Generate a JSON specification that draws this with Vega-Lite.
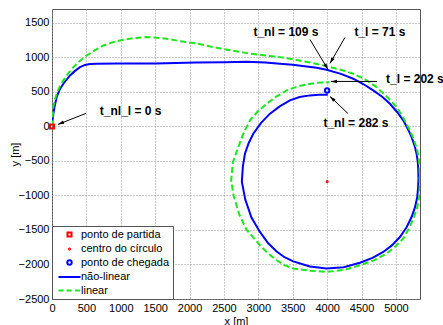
{
  "$schema": "https://vega.github.io/schema/vega-lite/v6.json",
  "width": 368,
  "height": 290,
  "autosize": "none",
  "padding": {"left": 52, "top": 9, "right": 23, "bottom": 26},
  "background": "white",
  "config": {
    "view": {"stroke": "#555", "strokeWidth": 1},
    "font": "Liberation Sans",
    "axis": {
      "labelFont": "Liberation Sans", "labelFontSize": 11, "labelColor": "#000",
      "titleFont": "Liberation Sans", "titleFontSize": 11, "titleFontWeight": "normal", "titleColor": "#000",
      "grid": true, "gridColor": "#999", "gridDash": [1, 2], "gridOpacity": 1,
      "domain": false, "ticks": false, "labelPadding": 3, "format": "d"
    }
  },
  "datasets": {
    "traj": [
      {"s":"não-linear","i":0,"x":0,"y":0},{"s":"não-linear","i":1,"x":8,"y":90},{"s":"não-linear","i":2,"x":20,"y":184},{"s":"não-linear","i":3,"x":40,"y":300},{"s":"não-linear","i":4,"x":68,"y":424},{"s":"não-linear","i":5,"x":110,"y":530},{"s":"não-linear","i":6,"x":165,"y":618},{"s":"não-linear","i":7,"x":262,"y":738},{"s":"não-linear","i":8,"x":330,"y":800},{"s":"não-linear","i":9,"x":407,"y":858},{"s":"não-linear","i":10,"x":480,"y":890},{"s":"não-linear","i":11,"x":552,"y":903},{"s":"não-linear","i":12,"x":650,"y":907},{"s":"não-linear","i":13,"x":940,"y":910},{"s":"não-linear","i":14,"x":1500,"y":912},{"s":"não-linear","i":15,"x":2103,"y":925},{"s":"não-linear","i":16,"x":2500,"y":930},{"s":"não-linear","i":17,"x":2830,"y":936},{"s":"não-linear","i":18,"x":3100,"y":925},{"s":"não-linear","i":19,"x":3314,"y":907},{"s":"não-linear","i":20,"x":3500,"y":892},{"s":"não-linear","i":21,"x":3702,"y":868},{"s":"não-linear","i":22,"x":3850,"y":848},{"s":"não-linear","i":23,"x":3992,"y":820},{"s":"não-linear","i":24,"x":4200,"y":760},{"s":"não-linear","i":25,"x":4380,"y":690},{"s":"não-linear","i":26,"x":4530,"y":610},{"s":"não-linear","i":27,"x":4670,"y":521},{"s":"não-linear","i":28,"x":4800,"y":430},{"s":"não-linear","i":29,"x":4913,"y":328},{"s":"não-linear","i":30,"x":5020,"y":205},{"s":"não-linear","i":31,"x":5106,"y":87},{"s":"não-linear","i":32,"x":5170,"y":-30},{"s":"não-linear","i":33,"x":5228,"y":-155},{"s":"não-linear","i":34,"x":5270,"y":-275},{"s":"não-linear","i":35,"x":5300,"y":-395},{"s":"não-linear","i":36,"x":5318,"y":-515},{"s":"não-linear","i":37,"x":5325,"y":-637},{"s":"não-linear","i":38,"x":5328,"y":-760},{"s":"não-linear","i":39,"x":5322,"y":-890},{"s":"não-linear","i":40,"x":5310,"y":-1023},{"s":"não-linear","i":41,"x":5278,"y":-1170},{"s":"não-linear","i":42,"x":5228,"y":-1313},{"s":"não-linear","i":43,"x":5155,"y":-1460},{"s":"não-linear","i":44,"x":5058,"y":-1602},{"s":"não-linear","i":45,"x":4945,"y":-1720},{"s":"não-linear","i":46,"x":4816,"y":-1819},{"s":"não-linear","i":47,"x":4660,"y":-1905},{"s":"não-linear","i":48,"x":4477,"y":-1975},{"s":"não-linear","i":49,"x":4240,"y":-2040},{"s":"não-linear","i":50,"x":3992,"y":-2059},{"s":"não-linear","i":51,"x":3750,"y":-2030},{"s":"não-linear","i":52,"x":3508,"y":-1955},{"s":"não-linear","i":53,"x":3380,"y":-1895},{"s":"não-linear","i":54,"x":3266,"y":-1812},{"s":"não-linear","i":55,"x":3140,"y":-1690},{"s":"não-linear","i":56,"x":3023,"y":-1529},{"s":"não-linear","i":57,"x":2900,"y":-1320},{"s":"não-linear","i":58,"x":2810,"y":-1060},{"s":"não-linear","i":59,"x":2760,"y":-800},{"s":"não-linear","i":60,"x":2775,"y":-580},{"s":"não-linear","i":61,"x":2805,"y":-395},{"s":"não-linear","i":62,"x":2860,"y":-240},{"s":"não-linear","i":63,"x":2926,"y":-106},{"s":"não-linear","i":64,"x":3040,"y":50},{"s":"não-linear","i":65,"x":3169,"y":184},{"s":"não-linear","i":66,"x":3310,"y":290},{"s":"não-linear","i":67,"x":3459,"y":376},{"s":"não-linear","i":68,"x":3600,"y":425},{"s":"não-linear","i":69,"x":3750,"y":449},{"s":"não-linear","i":70,"x":3880,"y":458},{"s":"não-linear","i":71,"x":4010,"y":458},
      {"s":"linear","i":0,"x":0,"y":0},{"s":"linear","i":1,"x":8,"y":120},{"s":"linear","i":2,"x":19,"y":280},{"s":"linear","i":3,"x":40,"y":380},{"s":"linear","i":4,"x":68,"y":473},{"s":"linear","i":5,"x":110,"y":570},{"s":"linear","i":6,"x":165,"y":666},{"s":"linear","i":7,"x":230,"y":760},{"s":"linear","i":8,"x":310,"y":858},{"s":"linear","i":9,"x":400,"y":945},{"s":"linear","i":10,"x":504,"y":1027},{"s":"linear","i":11,"x":620,"y":1100},{"s":"linear","i":12,"x":746,"y":1172},{"s":"linear","i":13,"x":890,"y":1220},{"s":"linear","i":14,"x":1037,"y":1254},{"s":"linear","i":15,"x":1200,"y":1280},{"s":"linear","i":16,"x":1376,"y":1293},{"s":"linear","i":17,"x":1520,"y":1285},{"s":"linear","i":18,"x":1667,"y":1269},{"s":"linear","i":19,"x":1860,"y":1235},{"s":"linear","i":20,"x":2103,"y":1200},{"s":"linear","i":21,"x":2345,"y":1148},{"s":"linear","i":22,"x":2600,"y":1100},{"s":"linear","i":23,"x":2830,"y":1061},{"s":"linear","i":24,"x":3070,"y":1030},{"s":"linear","i":25,"x":3314,"y":1003},{"s":"linear","i":26,"x":3560,"y":960},{"s":"linear","i":27,"x":3798,"y":916},{"s":"linear","i":28,"x":3992,"y":872},{"s":"linear","i":29,"x":4200,"y":820},{"s":"linear","i":30,"x":4380,"y":762},{"s":"linear","i":31,"x":4550,"y":680},{"s":"linear","i":32,"x":4719,"y":569},{"s":"linear","i":33,"x":4870,"y":430},{"s":"linear","i":34,"x":5010,"y":279},{"s":"linear","i":35,"x":5110,"y":120},{"s":"linear","i":36,"x":5203,"y":-58},{"s":"linear","i":37,"x":5265,"y":-200},{"s":"linear","i":38,"x":5310,"y":-347},{"s":"linear","i":39,"x":5335,"y":-490},{"s":"linear","i":40,"x":5345,"y":-637},{"s":"linear","i":41,"x":5346,"y":-830},{"s":"linear","i":42,"x":5339,"y":-1023},{"s":"linear","i":43,"x":5310,"y":-1170},{"s":"linear","i":44,"x":5262,"y":-1313},{"s":"linear","i":45,"x":5195,"y":-1470},{"s":"linear","i":46,"x":5106,"y":-1625},{"s":"linear","i":47,"x":4990,"y":-1740},{"s":"linear","i":48,"x":4864,"y":-1842},{"s":"linear","i":49,"x":4680,"y":-1940},{"s":"linear","i":50,"x":4477,"y":-2012},{"s":"linear","i":51,"x":4240,"y":-2080},{"s":"linear","i":52,"x":3992,"y":-2108},{"s":"linear","i":53,"x":3750,"y":-2090},{"s":"linear","i":54,"x":3508,"y":-2059},{"s":"linear","i":55,"x":3380,"y":-2010},{"s":"linear","i":56,"x":3266,"y":-1939},{"s":"linear","i":57,"x":3140,"y":-1840},{"s":"linear","i":58,"x":3023,"y":-1722},{"s":"linear","i":59,"x":2910,"y":-1590},{"s":"linear","i":60,"x":2830,"y":-1500},{"s":"linear","i":61,"x":2720,"y":-1270},{"s":"linear","i":62,"x":2640,"y":-1000},{"s":"linear","i":63,"x":2605,"y":-780},{"s":"linear","i":64,"x":2630,"y":-520},{"s":"linear","i":65,"x":2708,"y":-299},{"s":"linear","i":66,"x":2780,"y":-110},{"s":"linear","i":67,"x":2878,"y":87},{"s":"linear","i":68,"x":2990,"y":215},{"s":"linear","i":69,"x":3120,"y":328},{"s":"linear","i":70,"x":3260,"y":430},{"s":"linear","i":71,"x":3411,"y":521},{"s":"linear","i":72,"x":3560,"y":575},{"s":"linear","i":73,"x":3702,"y":608},{"s":"linear","i":74,"x":3850,"y":630},{"s":"linear","i":75,"x":4030,"y":638}
    ],
    "markers": [
      {"s":"ponto de partida","x":0,"y":0},
      {"s":"centro do círculo","x":4000,"y":-800},
      {"s":"ponto de chegada","x":4000,"y":520}
    ],
    "arrows": [
      {"label":"t_nl = 109 s","x":3750,"y":1259,"x2":4012,"y2":825},
      {"label":"t_l = 71 s","x":4259,"y":1288,"x2":4041,"y2":912},
      {"label":"t_l = 202 s","x":4724,"y":651,"x2":4055,"y2":651},
      {"label":"t_nl = 282 s","x":4302,"y":188,"x2":4041,"y2":434},
      {"label":"t_nl_l = 0 s","x":494,"y":188,"x2":87,"y2":29}
    ],
    "labels": [
      {"label":"t_nl = 109 s","x":3401,"y":1360},
      {"label":"t_l = 71 s","x":4767,"y":1360},
      {"label":"t_l = 202 s","x":5276,"y":680},
      {"label":"t_nl = 282 s","x":4419,"y":48},
      {"label":"t_nl_l = 0 s","x":1144,"y":221}
    ]
  },
  "encoding": {
    "x": {"field":"x","type":"quantitative","scale":{"domain":[0,5350],"nice":false,"zero":false},
      "axis":{"title":"x [m]","values":[0,500,1000,1500,2000,2500,3000,3500,4000,4500,5000],"labelFlush":false,"labelOverlap":false,"titlePadding":2}},
    "y": {"field":"y","type":"quantitative","scale":{"domain":[-2500,1700],"nice":false,"zero":false},
      "axis":{"title":"y [m]","values":[-2500,-2000,-1500,-1000,-500,0,500,1000,1500],"labelOverlap":false,
        "titleX":-37,"titleY":145,"titleAngle":-90,"titleAlign":"center","titleBaseline":"middle"}}
  },
  "layer": [
    {
      "data": {"name": "traj"},
      "transform": [{"filter": "datum.s == 'não-linear'"}],
      "mark": {"type":"line","strokeWidth":2,"clip":true},
      "encoding": {
        "order": {"field":"i","type":"quantitative"},
        "color": {"field":"s","type":"nominal",
          "scale":{"domain":["ponto de partida","centro do círculo","ponto de chegada","não-linear","linear"],"range":["#ff0000","#ff0000","#0000ff","#0000ff","#1ee61e"]},
          "legend":{"title":null,"orient":"bottom-left","offset":0,"padding":3,"symbolOffset":9,"labelOffset":6,"rowPadding":1.5,
            "strokeColor":"#555","fillColor":"white","symbolSize":64,"symbolStrokeWidth":2,"symbolFillColor":"transparent",
            "labelFont":"Liberation Sans","labelFontSize":11,"labelColor":"#000"}}
      }
    },
    {
      "data": {"name": "traj"},
      "transform": [{"filter": "datum.s == 'linear'"}],
      "mark": {"type":"line","strokeWidth":2,"strokeDash":[6,3],"clip":true},
      "encoding": {
        "order": {"field":"i","type":"quantitative"},
        "color": {"field":"s","type":"nominal",
          "scale":{"domain":["ponto de partida","centro do círculo","ponto de chegada","não-linear","linear"],"range":["#ff0000","#ff0000","#0000ff","#0000ff","#1ee61e"]}}
      }
    },
    {
      "data": {"name": "markers"},
      "mark": {"type":"point","filled":false,"size":64,"strokeWidth":2,"opacity":1},
      "encoding": {
        "color": {"field":"s","type":"nominal",
          "scale":{"domain":["ponto de partida","centro do círculo","ponto de chegada","não-linear","linear"],"range":["#ff0000","#ff0000","#0000ff","#0000ff","#1ee61e"]}},
        "shape": {"field":"s","type":"nominal",
          "scale":{"domain":["ponto de partida","centro do círculo","ponto de chegada","não-linear","linear"],
            "range":["M-0.5,-0.5L0.5,-0.5L0.5,0.5L-0.5,0.5Z",
                     "M-0.14,0A0.14,0.14 0 1,1 0.14,0A0.14,0.14 0 1,1 -0.14,0Z",
                     "M-0.55,0A0.55,0.55 0 1,1 0.55,0A0.55,0.55 0 1,1 -0.55,0Z",
                     "M-2.75,0L2.75,0",
                     "M-2.75,0L-1.5,0M-0.7,0L0.55,0M1.4,0L2.65,0"]},
          "legend":{"title":null}}
      }
    },
    {
      "data": {"name": "arrows"},
      "mark": {"type":"rule","color":"#000","strokeWidth":1},
      "encoding": {"x2":{"field":"x2"},"y2":{"field":"y2"}}
    },
    {
      "data": {"name": "arrows"},
      "transform": [{"filter": "datum.label == 't_nl = 109 s'"}],
      "mark": {"type":"point","shape":"M0,0L0.7,2.4L-0.7,2.4Z","filled":true,"color":"#000","size":25,"angle":149,"opacity":1},
      "encoding": {"x":{"field":"x2","type":"quantitative"},"y":{"field":"y2","type":"quantitative"}}
    },
    {
      "data": {"name": "arrows"},
      "transform": [{"filter": "datum.label == 't_l = 71 s'"}],
      "mark": {"type":"point","shape":"M0,0L0.7,2.4L-0.7,2.4Z","filled":true,"color":"#000","size":25,"angle":210,"opacity":1},
      "encoding": {"x":{"field":"x2","type":"quantitative"},"y":{"field":"y2","type":"quantitative"}}
    },
    {
      "data": {"name": "arrows"},
      "transform": [{"filter": "datum.label == 't_l = 202 s'"}],
      "mark": {"type":"point","shape":"M0,0L0.7,2.4L-0.7,2.4Z","filled":true,"color":"#000","size":25,"angle":270,"opacity":1},
      "encoding": {"x":{"field":"x2","type":"quantitative"},"y":{"field":"y2","type":"quantitative"}}
    },
    {
      "data": {"name": "arrows"},
      "transform": [{"filter": "datum.label == 't_nl = 282 s'"}],
      "mark": {"type":"point","shape":"M0,0L0.7,2.4L-0.7,2.4Z","filled":true,"color":"#000","size":25,"angle":313,"opacity":1},
      "encoding": {"x":{"field":"x2","type":"quantitative"},"y":{"field":"y2","type":"quantitative"}}
    },
    {
      "data": {"name": "arrows"},
      "transform": [{"filter": "datum.label == 't_nl_l = 0 s'"}],
      "mark": {"type":"point","shape":"M0,0L0.7,2.4L-0.7,2.4Z","filled":true,"color":"#000","size":25,"angle":249,"opacity":1},
      "encoding": {"x":{"field":"x2","type":"quantitative"},"y":{"field":"y2","type":"quantitative"}}
    },
    {
      "data": {"name": "labels"},
      "mark": {"type":"text","font":"Liberation Sans","fontSize":12,"fontWeight":"bold","color":"#000","align":"center","baseline":"middle"},
      "encoding": {"text":{"field":"label","type":"nominal"}}
    }
  ]
}
